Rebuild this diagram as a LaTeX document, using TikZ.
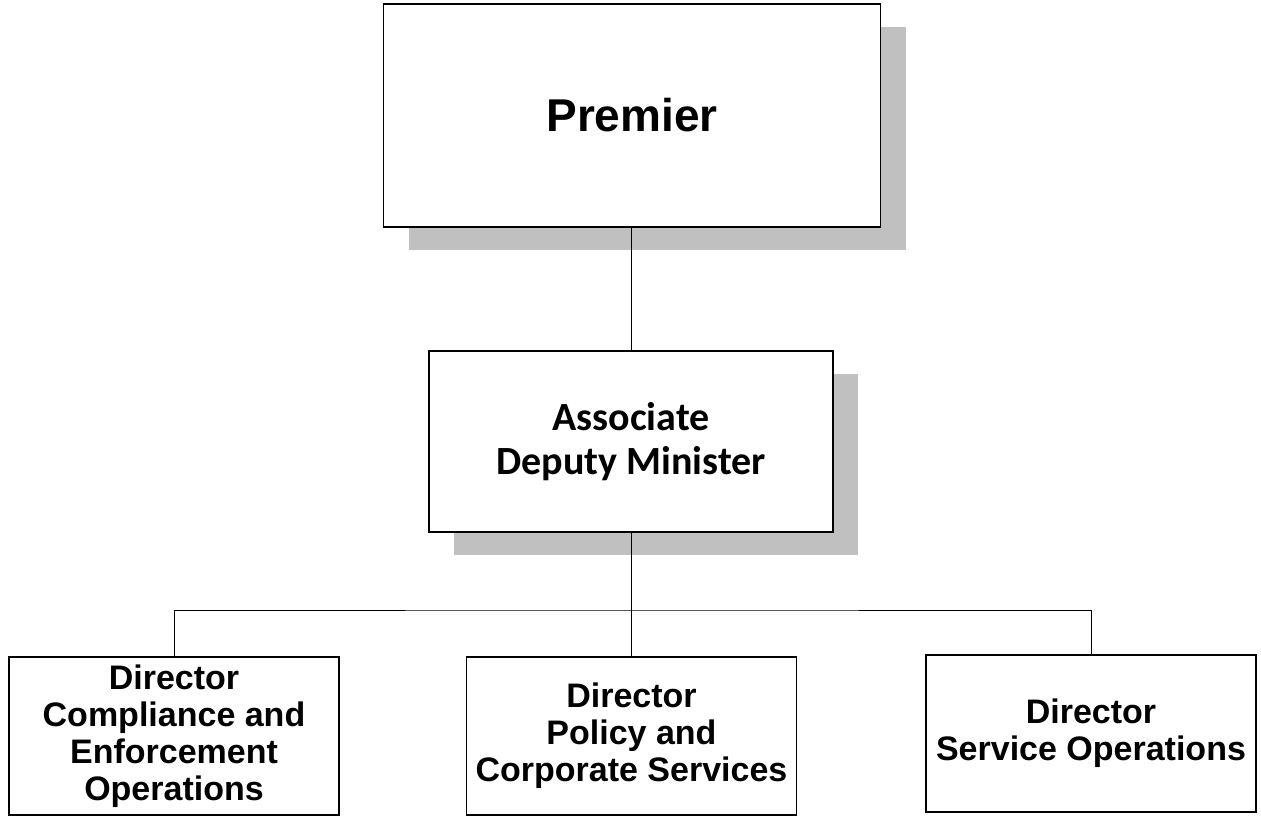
\documentclass[tikz,border=0pt]{standalone}
\usepackage{fontspec}
\setmainfont{Liberation Sans}
\newfontfamily\calibrifont{Carlito}
\usetikzlibrary{shadows}
\definecolor{shadowgray}{RGB}{192,192,192}

\begin{document}
\begin{tikzpicture}[
    x=1pt, y=-1pt,
    box/.style={draw, line width=1.6pt, fill=white, inner sep=0pt, align=center},
    shadowbox/.style={box, drop shadow={shadow xshift=25pt, shadow yshift=-23pt,
        fill=shadowgray, opacity=1}},
    dirbox/.style={box, minimum width=330pt, minimum height=158pt,
        font=\fontsize{34}{37}\selectfont\bfseries},
    every path/.append style={line width=0.9pt}
]
    \useasboundingbox (0,0) rectangle (1261,817);
    \node[shadowbox, minimum width=497pt, minimum height=223pt,
        font=\fontsize{46}{50}\selectfont\bfseries] (premier) at (632,115.5) {Premier};
    \node[shadowbox, minimum width=404pt, minimum height=181pt,
        font=\calibrifont\fontsize{40}{44}\selectfont\bfseries] (adm) at (631,441.5)
        {Associate\\Deputy Minister};
    \node[dirbox] (compliance) at (174,736)
        {Director\\Compliance and\\Enforcement\\Operations};
    \node[dirbox] (policy) at (631.5,736)
        {Director\\Policy and\\Corporate Services};
    \node[dirbox, minimum height=157pt] (service) at (1091,733.5)
        {Director\\Service Operations};
    \coordinate (bus) at (631,610);
    \draw (adm.north) -- (adm.north |- premier.south);
    \draw (adm.south) -- (adm.south |- policy.north);
    \draw (compliance.north) |- (bus) -| (service.north);
\end{tikzpicture}
\end{document}
